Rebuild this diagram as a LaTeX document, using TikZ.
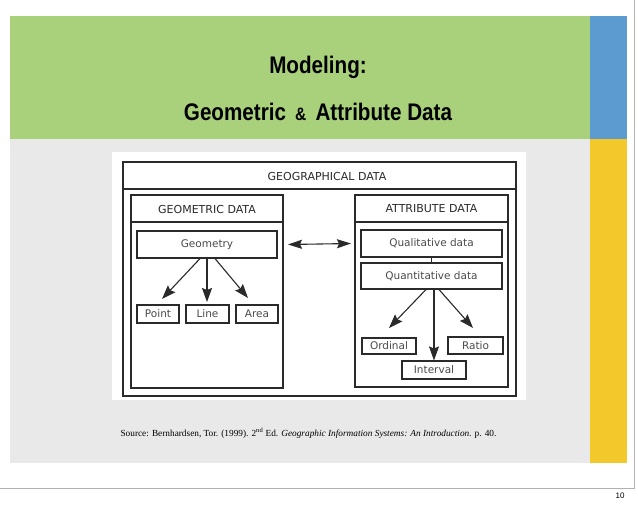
\documentclass[tikz,border=0pt]{standalone}
\usepackage{fontspec}
\setmainfont{Liberation Serif}
\newfontfamily\diag{DejaVu Sans}
\newfontfamily\ttl{Liberation Sans}
\usetikzlibrary{arrows.meta}
\definecolor{sgreen}{HTML}{A9D17B}
\definecolor{sblue}{HTML}{5B9BD0}
\definecolor{syellow}{HTML}{F2C82A}
\definecolor{sgray}{HTML}{E9E9E9}
\definecolor{ink}{HTML}{2A2A2A}
\begin{document}
\begin{tikzpicture}[x=1pt,y=-1pt,
  bx/.style={draw=ink,line width=1.1pt,inner sep=0pt},
  lbl/.style={font=\diag\fontsize{10.5}{12}\selectfont,text=ink!85},
  hdr/.style={font=\diag\fontsize{11}{12}\selectfont,text=ink},
  arr/.style={draw=ink,line width=1.1pt,-{Stealth[length=14pt,width=10pt,inset=2pt]}}]
\useasboundingbox (0,0) rectangle (638,504);
\fill[white] (0,0) rectangle (638,504);
\draw[gray!60,line width=0.5pt] (634,0) -- (634,488) -- (0,488);
\fill[sgreen] (10,16) rectangle (590,139);
\fill[sblue] (590,16) rectangle (627,139);
\fill[sgray] (10,139) rectangle (590,463);
\fill[syellow] (590,139) rectangle (627,463);
\node[font=\ttl\bfseries\fontsize{24}{28}\selectfont] (t1) at (318,67) {\scalebox{0.86}[1]{Modeling:}};
\node[font=\ttl\bfseries\fontsize{24}{28}\selectfont] (t2) at (318,112) {\scalebox{0.86}[1]{Geometric \,{\fontsize{18}{20}\selectfont\&}\, Attribute Data}};
\node[font=\ttl\fontsize{8}{9}\selectfont] (pn) at (620,496) {10};
\fill[white] (112,152) rectangle (526,400);
\node[bx,minimum width=393pt,minimum height=234pt] (outer) at (319.5,279) {};
\draw[ink,line width=1.1pt] (123,189) -- (516,189);
\node[hdr] (gd) at (327,176) {GEOGRAPHICAL DATA};
\node[bx,minimum width=152pt,minimum height=193pt] (geo) at (207,291.5) {};
\draw[ink,line width=1.1pt] (131,222) -- (283,222);
\node[hdr] (geoh) at (207,209) {GEOMETRIC DATA};
\node[bx,minimum width=153pt,minimum height=192pt] (att) at (431.5,291) {};
\draw[ink,line width=1.1pt] (355,222) -- (508,222);
\node[hdr] (atth) at (431.5,209) {ATTRIBUTE DATA};
\node[bx,lbl,minimum width=140pt,minimum height=27pt] (geom) at (207,244.5) {Geometry};
\node[bx,lbl,minimum width=42pt,minimum height=18pt] (pt) at (158,314) {Point};
\node[bx,lbl,minimum width=43pt,minimum height=18pt] (ln) at (207.5,314) {Line};
\node[bx,lbl,minimum width=42pt,minimum height=18pt] (ar) at (257,314) {Area};
\node[bx,lbl,minimum width=141pt,minimum height=27pt] (qual) at (431.5,243.5) {Qualitative data};
\node[bx,lbl,minimum width=141pt,minimum height=26pt] (quan) at (431.5,276) {Quantitative data};
\node[bx,lbl,minimum width=54pt,minimum height=16pt] (ord) at (389,346) {Ordinal};
\node[bx,lbl,minimum width=55pt,minimum height=17pt] (rat) at (475.5,345.5) {Ratio};
\node[bx,lbl,minimum width=64pt,minimum height=18pt] (int) at (434,370) {Interval};
\coordinate (g1) at (162,299); \coordinate (g2) at (207,302); \coordinate (g3) at (248,298);
\draw[arr] (geom.south -| 200,0) -- (g1);
\draw[arr] (geom.south) -- (g2);
\draw[arr] (geom.south -| 215,0) -- (g3);
\draw[ink,line width=1.1pt] (qual.south) -- (quan.north);
\coordinate (q1) at (389,328); \coordinate (q3) at (473,328);
\draw[arr] (quan.south -| 426,0) -- (q1);
\draw[arr] (quan.south -| int.north) -- (int.north);
\draw[arr] (quan.south -| 439,0) -- (q3);
\draw[draw=ink,line width=1.1pt,{Stealth[length=14pt,width=9pt,inset=2pt]}-{Stealth[length=14pt,width=9pt,inset=2pt]}] (geom.east -| 288,0) -- (qual.west -| 351,0);
\node[font=\fontsize{9.3}{10}\selectfont,anchor=west] (src) at (117,433) {Source: Bernhardsen, Tor. (1999). 2\textsuperscript{nd} Ed. \textit{Geographic Information Systems: An Introduction.} p. 40.};
\end{tikzpicture}
\end{document}
